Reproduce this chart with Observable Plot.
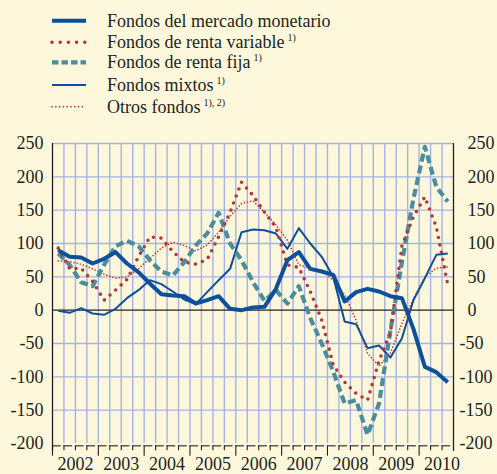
<!DOCTYPE html>
<html><head><meta charset="utf-8">
<script src="https://cdn.jsdelivr.net/npm/d3@7"></script>
<script src="https://cdn.jsdelivr.net/npm/@observablehq/plot@0.6"></script>
<style>
html,body{margin:0;padding:0;background:#fdf8dc;}
body{width:497px;height:474px;overflow:hidden;font-family:"Liberation Serif","Times New Roman",serif;color:#231f20;}
#legend svg,#chart svg{display:block}
</style></head><body>
<div id="legend"></div>
<div id="chart"></div>
<script>
// Quarterly periods (2002 T1 .. 2010 T3)
const quarters = ["2002T1","2002T2","2002T3","2002T4","2003T1","2003T2","2003T3","2003T4",
  "2004T1","2004T2","2004T3","2004T4","2005T1","2005T2","2005T3","2005T4",
  "2006T1","2006T2","2006T3","2006T4","2007T1","2007T2","2007T3","2007T4",
  "2008T1","2008T2","2008T3","2008T4","2009T1","2009T2","2009T3","2009T4",
  "2010T1","2010T2","2010T3"];
const years = [2002,2003,2004,2005,2006,2007,2008,2009,2010];
const yTicks = [250,200,150,100,50,0,-50,-100,-150,-200];

const mercadoMonetario = [90,80,79,70,77,87,70,57,40,24,22,21,10,15,21,2,0,4,5,32,75,87,62,58,53,13,27,32,28,21,18,-28,-85,-93,-108];
const rentaVariable   = [93,62,63,43,15,30,46,80,110,108,88,72,69,76,110,147,192,172,147,124,68,64,28,-15,-82,-108,-125,-135,-76,-33,97,140,170,125,38];
const rentaFija       = [85,68,42,36,68,96,104,96,75,58,52,72,97,115,146,100,75,42,14,30,10,36,-12,-50,-92,-140,-135,-187,-140,-30,72,167,245,185,163];
const mixtos          = [-1,-4,3,-5,-7,2,18,30,45,39,28,16,9,27,45,62,117,121,120,115,92,123,100,80,50,-17,-21,-57,-53,-71,-42,15,48,83,85];
const otros           = [74,73,69,62,54,48,50,62,78,93,102,97,89,98,117,141,160,164,147,128,105,68,63,60,45,23,-15,-65,-84,-64,-20,17,50,63,65];

const labels = ["Fondos del mercado monetario","Fondos de renta variable","Fondos de renta fija","Fondos mixtos","Otros fondos"];
const sups = ["","1)","1)","1)","1), 2)"];

const cBlue = "#0d4f9b", cRed = "#b2383a", cTeal = "#4b8c9e", cRed2 = "#c23b3d";
const gridColor = "#a7b3df", ink = "#231f20";
const styles = [
  {stroke:cBlue, strokeWidth:4, dash:null, cap:"butt"},
  {stroke:cRed, strokeWidth:3.6, dash:"0 7.5", cap:"round"},
  {stroke:cTeal, strokeWidth:4.2, dash:"8 4", cap:"butt"},
  {stroke:cBlue, strokeWidth:2, dash:null, cap:"butt"},
  {stroke:cRed2, strokeWidth:1.7, dash:"0 3.2", cap:"round"}
];

// time position of each quarter (centre of the quarter)
const tOf = q => +q.slice(0,4) + (+q.slice(5) - 1) / 4 + 0.125;
const rows = quarters.map((q,i) => ({t:tOf(q), mm:mercadoMonetario[i], rv:rentaVariable[i], rf:rentaFija[i], mx:mixtos[i], ot:otros[i]}));

// ---- legend ----
const lg = d3.select("#legend").append("svg").attr("width",497).attr("height",125);
const rowY = [20.7,42.3,62.3,85,106.7];
labels.forEach((lab,i) => {
  const s = styles[i];
  const ln = lg.append("line").attr("x1",52).attr("x2",86).attr("y1",rowY[i]).attr("y2",rowY[i])
    .attr("stroke",s.stroke).attr("stroke-width",s.strokeWidth).attr("stroke-linecap",s.cap);
  if (s.dash) ln.attr("stroke-dasharray", i===2 ? "6.5 3" : (i===1 ? "0 8.2" : "0 3.8"));
  const tx = lg.append("text").attr("x",107).attr("y",rowY[i]+6).attr("font-size",18)
    .attr("font-family","Liberation Serif, Times New Roman, serif").attr("fill",ink).text(lab);
  if (sups[i]) tx.append("tspan").attr("font-size",10).attr("dx",3).attr("dy",-7).text(sups[i]);
});

// ---- chart ----
const qBounds = d3.range(2002.25, 2010.75, 0.25);
const qStarts = d3.range(2002, 2010.75, 0.25);
const lineMark = (key, s) => Plot.line(rows, {x:"t", y:key, stroke:s.stroke, strokeWidth:s.strokeWidth,
  strokeDasharray: s.dash ?? undefined, strokeLinecap:s.cap, strokeLinejoin:"round"});

const chart = Plot.plot({
  width:497, height:349, marginTop:18, marginBottom:31, marginLeft:52, marginRight:44,
  x:{domain:[2002,2010.75], axis:null},
  y:{domain:[-200,250], axis:null},
  style:{background:"transparent", fontFamily:"Liberation Serif, Times New Roman, serif", fontSize:"18px", color:ink, overflow:"visible"},
  marks:[
    Plot.ruleY(yTicks.filter(d => d !== 0 && d !== -200), {stroke:gridColor, strokeWidth:1.4}),
    Plot.ruleX(qBounds, {y1:-200, y2:250, stroke:gridColor, strokeWidth:1.4}),
    Plot.ruleY([0], {stroke:ink, strokeWidth:1.1}),
    Plot.ruleX([2002, 2010.75], {y1:-212, y2:250, stroke:ink, strokeWidth:1.3}),
    Plot.ruleY(qStarts, {y:-203.5, x1:d => d, x2:d => d + 0.19, stroke:ink, strokeWidth:1.1}),
    Plot.ruleX(qStarts, {x:d => d, y1:-203.5, y2:d => Number.isInteger(d) ? -219 : -211, stroke:ink, strokeWidth:1.1}),
    Plot.axisY(yTicks, {anchor:"left", tickSize:0, tickPadding:9, fontSize:18, tickFormat:d => String(d)}),
    Plot.text(yTicks.filter(d => d >= 0), {x:2010.75, y:d => d, dx:14, text:d => String(d), textAnchor:"start", fontSize:18, fill:ink}),
    Plot.text(yTicks.filter(d => d < 0), {x:2010.75, y:d => d, dx:6, text:d => String(d), textAnchor:"start", fontSize:18, fill:ink}),
    Plot.text(years, {x:d => d + 0.5, y:-200, dy:21, text:d => String(d), fontSize:18, fill:ink}),
    lineMark("ot", styles[4]),
    lineMark("mx", styles[3]),
    lineMark("rf", styles[2]),
    lineMark("rv", styles[1]),
    lineMark("mm", styles[0])
  ]
});
document.getElementById("chart").appendChild(chart);
</script>
</body></html>
